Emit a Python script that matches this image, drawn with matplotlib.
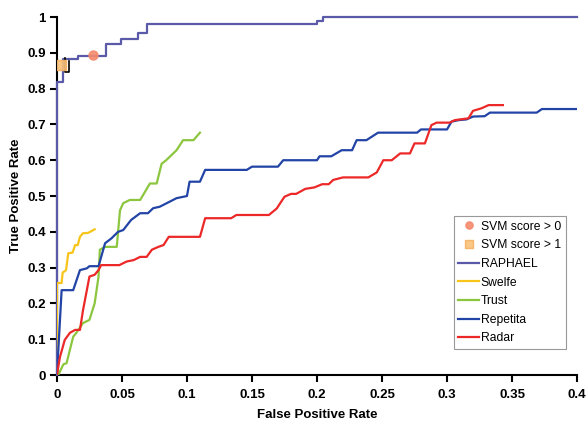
import matplotlib
matplotlib.use("Agg")
import matplotlib.pyplot as plt

plt.rcParams['font.family'] = ['Liberation Sans', 'DejaVu Sans']

# curves (FPR, TPR)
raphael_x = [0, 0, 0.005, 0.005, 0.016, 0.016, 0.038, 0.038, 0.049, 0.049, 0.062, 0.062,
             0.069, 0.069, 0.2, 0.2, 0.205, 0.205, 0.4]
raphael_y = [0, 0.818, 0.818, 0.883, 0.883, 0.89, 0.89, 0.925, 0.925, 0.94, 0.94, 0.955,
             0.955, 0.98, 0.98, 0.99, 0.99, 1.0, 1.0]

swelfe_x = [0, 0, 0.0036, 0.0044, 0.007, 0.0087, 0.012, 0.014, 0.016, 0.0177, 0.020, 0.024, 0.029]
swelfe_y = [0, 0.257, 0.257, 0.286, 0.293, 0.34, 0.342, 0.363, 0.363, 0.386, 0.396, 0.397, 0.407]

trust_x = [0.001, 0.005, 0.0074, 0.0125, 0.015, 0.020, 0.025, 0.029, 0.032, 0.033, 0.037,
           0.046, 0.0485, 0.051, 0.056, 0.064, 0.0715, 0.0767, 0.0805, 0.084, 0.092, 0.097,
           0.105, 0.11]
trust_y = [0, 0.03, 0.033, 0.107, 0.118, 0.145, 0.154, 0.2, 0.275, 0.35, 0.358,
           0.358, 0.46, 0.48, 0.489, 0.489, 0.535, 0.535, 0.59, 0.6, 0.628, 0.656,
           0.656, 0.677]

repetita_x = [0, 0.0036, 0.0125, 0.0177, 0.023, 0.025, 0.032, 0.037, 0.042, 0.047, 0.051,
              0.057, 0.064, 0.07, 0.074, 0.079, 0.092, 0.1, 0.102, 0.11, 0.114, 0.146,
              0.15, 0.17, 0.174, 0.2, 0.202, 0.211, 0.219, 0.227, 0.2305, 0.238, 0.247,
              0.277, 0.28, 0.3, 0.3035, 0.309, 0.315, 0.32, 0.329, 0.333, 0.369, 0.373, 0.4]
repetita_y = [0, 0.237, 0.237, 0.293, 0.298, 0.304, 0.304, 0.368, 0.382, 0.4, 0.405,
              0.433, 0.452, 0.452, 0.466, 0.47, 0.494, 0.5, 0.54, 0.54, 0.573, 0.573,
              0.582, 0.582, 0.6, 0.6, 0.611, 0.611, 0.628, 0.628, 0.656, 0.656, 0.677,
              0.677, 0.686, 0.686, 0.708, 0.712, 0.714, 0.722, 0.723, 0.733, 0.733, 0.743, 0.743]

radar_x = [0, 0.0023, 0.006, 0.01, 0.014, 0.0177, 0.02, 0.023, 0.025, 0.029, 0.032, 0.034,
           0.048, 0.0536, 0.059, 0.064, 0.069, 0.073, 0.078, 0.082, 0.086, 0.11, 0.114,
           0.134, 0.138, 0.163, 0.169, 0.175, 0.18, 0.184, 0.191, 0.198, 0.204, 0.209,
           0.2125, 0.22, 0.2395, 0.246, 0.251, 0.2575, 0.264, 0.2715, 0.275, 0.283, 0.288,
           0.292, 0.302, 0.306, 0.31, 0.3165, 0.32, 0.3265, 0.332, 0.343]
radar_y = [0, 0.05, 0.098, 0.118, 0.126, 0.126, 0.18, 0.237, 0.275, 0.28, 0.293, 0.307,
           0.307, 0.317, 0.321, 0.33, 0.33, 0.35, 0.358, 0.363, 0.386, 0.386, 0.438,
           0.438, 0.447, 0.447, 0.465, 0.498, 0.506, 0.506, 0.52, 0.524, 0.533, 0.533,
           0.545, 0.552, 0.552, 0.566, 0.6, 0.6, 0.619, 0.619, 0.647, 0.647, 0.698,
           0.705, 0.705, 0.712, 0.714, 0.717, 0.738, 0.745, 0.754, 0.754]

svm0_pt = (0.028, 0.895)
svm1_pt = (0.003, 0.866)
svm_step_x = [0.006, 0.006, 0.0095, 0.0095]
svm_step_y = [0.885, 0.846, 0.846, 0.876]

xticks = [0, 0.05, 0.1, 0.15, 0.2, 0.25, 0.3, 0.35, 0.4]
xlabels = ['0', '0.05', '0.1', '0.15', '0.2', '0.25', '0.3', '0.35', '0.4']
yticks = [0, 0.1, 0.2, 0.3, 0.4, 0.5, 0.6, 0.7, 0.8, 0.9, 1.0]
ylabels = ['0', '0.1', '0.2', '0.3', '0.4', '0.5', '0.6', '0.7', '0.8', '0.9', '1']

fig = plt.figure(figsize=(5.87, 4.26), dpi=100)
ax = fig.add_axes([0.097, 0.1197, 0.886, 0.8403])

lw = 1.6
ax.plot(raphael_x, raphael_y, color='#5a5aa8', lw=lw, label='RAPHAEL', zorder=3, clip_on=False)
ax.plot(swelfe_x, swelfe_y, color='#f7c51a', lw=lw, label='Swelfe', zorder=3)
ax.plot(trust_x, trust_y, color='#8cc63f', lw=lw, label='Trust', zorder=3)
ax.plot(repetita_x, repetita_y, color='#2244a6', lw=lw, label='Repetita', zorder=3)
ax.plot(radar_x, radar_y, color='#ec2828', lw=lw, label='Radar', zorder=3)
ax.plot(svm_step_x, svm_step_y, color='black', lw=1.2, zorder=4)

ax.plot([svm0_pt[0]], [svm0_pt[1]], 'o', ms=6.5, color='#f48a6c', mec='#f48a6c',
        label='SVM score > 0', zorder=5, alpha=0.9)
ax.plot([svm1_pt[0]], [svm1_pt[1]], 's', ms=6.5, color='#f9c27a', mec='#f5b060',
        label='SVM score > 1', zorder=5, alpha=0.9)

ax.set_xlim(0, 0.4)
ax.set_ylim(0, 1.0)
ax.set_xticks(xticks)
ax.set_xticklabels(xlabels)
ax.set_yticks(yticks)
ax.set_yticklabels(ylabels)
for s in ['top', 'right']:
    ax.spines[s].set_visible(False)
for s in ['left', 'bottom']:
    ax.spines[s].set_linewidth(1.5)
ax.tick_params(direction='out', length=5, width=1.5, labelsize=9.5)
ax.tick_params(axis='y', pad=3)
ax.tick_params(axis='x', pad=5)
for t in ax.get_xticklabels() + ax.get_yticklabels():
    t.set_fontweight('bold')
ax.set_xlabel('False Positive Rate', fontsize=9.5, fontweight='bold', labelpad=6)
ax.set_ylabel('True Positive Rate', fontsize=9.5, fontweight='bold', labelpad=4)

h, l = ax.get_legend_handles_labels()
order = [l.index(n) for n in ['SVM score > 0', 'SVM score > 1', 'RAPHAEL', 'Swelfe',
                              'Trust', 'Repetita', 'Radar']]
leg = ax.legend([h[i] for i in order], [l[i] for i in order], loc='lower right',
                bbox_to_anchor=(0.99, 0.055), fontsize=8.7, fancybox=False,
                handlelength=1.7, handletextpad=0.15, borderpad=0.4, labelspacing=0.55,
                framealpha=1, edgecolor='#999999', markerscale=0.8)
leg.get_frame().set_linewidth(0.8)

fig.savefig('out.png', dpi=100)
